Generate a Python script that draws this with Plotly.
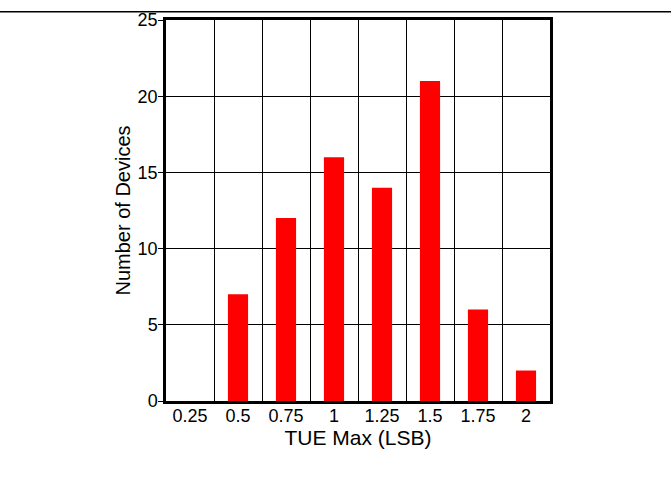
import plotly.graph_objects as go

categories = ["0.25", "0.5", "0.75", "1", "1.25", "1.5", "1.75", "2"]
devices = [0, 7, 12, 16, 14, 21, 6, 2]

W, H = 671, 497
L, R, T, B = 166, 121, 10, 96
pw = W - L - R
ph = H - T - B
line_y = 1.5  # px from top of figure

fig = go.Figure(go.Bar(x=categories, y=devices, marker_color="#ff0000",
                       marker_line_width=0, width=0.42))

fig.update_layout(
    width=W, height=H,
    margin=dict(l=L, r=R, t=T, b=B),
    paper_bgcolor="white", plot_bgcolor="white",
    font=dict(family="Liberation Sans, Arial, sans-serif", color="black", size=18),
    showlegend=False,
    shapes=[dict(type="line", xref="paper", yref="paper",
                 x0=-L / pw, x1=1 + R / pw,
                 y0=1 + (T - line_y) / ph, y1=1 + (T - line_y) / ph,
                 line=dict(color="black", width=1.5))],
)
fig.update_xaxes(
    type="category", tickson="boundaries", showgrid=True, gridcolor="black", gridwidth=0.8,
    showline=True, linecolor="black", linewidth=2.5, mirror=True,
    ticks="", tickfont=dict(size=18), ticklabelstandoff=-3,
    title=dict(text="TUE Max (LSB)", font=dict(size=21), standoff=2),
)
fig.update_yaxes(
    range=[0, 25], dtick=5, showgrid=True, gridcolor="black", gridwidth=0.8,
    showline=True, linecolor="black", linewidth=2.5, mirror=True,
    ticks="outside", ticklen=5, tickcolor="black", tickwidth=1, tickfont=dict(size=18),
    ticklabelstandoff=-3,
    zeroline=False,
    title=dict(text="Number of Devices", font=dict(size=20), standoff=2),
)

post = ("document.body.style.margin='0px';"
        "var d=document.getElementById('{plot_id}');"
        "d.style.position='absolute';d.style.left='0px';d.style.top='0px';")
fig.write_html("out.html", config={"displayModeBar": False}, post_script=post)
